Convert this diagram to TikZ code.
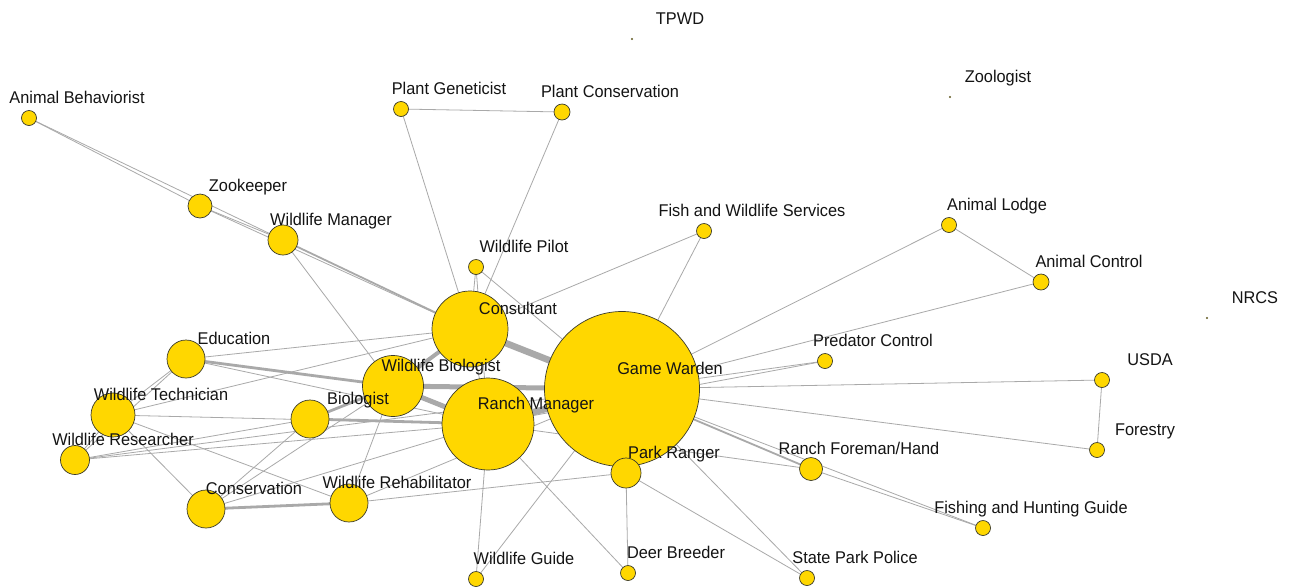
\documentclass[tikz,border=0pt]{standalone}
\usepackage{fontspec}
\setmainfont[FakeStretch=0.96]{Liberation Sans}
\usetikzlibrary{backgrounds}
\definecolor{vfill}{HTML}{FFD700}
\definecolor{vline}{HTML}{3A3A2A}
\definecolor{ecol}{HTML}{A9A9A9}
\newcommand\vtx[4]{\node[vert, minimum size=#4pt] (#1) at (#2,#3) {};}
\newcommand\lab[2]{\node[lbl] (#1-l) at ([xshift=48pt,yshift=15pt]#1.center) {#2};}
\begin{document}
\begin{tikzpicture}[x=1pt,y=-1pt,
  vert/.style={circle, draw=vline, line width=0.7pt, fill=vfill, inner sep=0pt, outer sep=0pt},
  dot/.style={circle, fill=vline!80!vfill, inner sep=0pt, minimum size=2.4pt},
  lbl/.style={anchor=base, text=black!92, font=\fontsize{17}{20}\selectfont, inner sep=0pt},
  e/.style={draw=ecol, line width=0.8pt},
  e2/.style={draw=ecol, line width=1.8pt},
  e3/.style={draw=ecol, line width=2.8pt},
  e4/.style={draw=ecol, line width=4pt},
  e5/.style={draw=ecol, line width=5pt},
  e6/.style={draw=ecol, line width=6.6pt}]
\useasboundingbox (0,0) rectangle (1289,587);

% isolated vertices
\node[dot] (tpwd) at (632,39) {};
\node[dot] (zool) at (950,97) {};
\node[dot] (nrcs) at (1207,318) {};

% vertices: name, x, y, diameter
\vtx{anbeh}{29}{118}{15}
\vtx{plgen}{401}{109}{15}
\vtx{plcon}{562}{112}{16}
\vtx{zoo}{200}{206}{24}
\vtx{wman}{283}{240}{30}
\vtx{fws}{704}{231}{15}
\vtx{lodge}{949}{225}{15}
\vtx{actrl}{1041}{282}{16}
\vtx{pilot}{476}{267}{15}
\vtx{cons}{470}{329}{76}
\vtx{gw}{622}{389}{155}
\vtx{pred}{825}{361}{15}
\vtx{usda}{1102}{380}{15}
\vtx{forest}{1097}{450}{15}
\vtx{edu}{186}{359}{38}
\vtx{wbio}{393}{386}{61}
\vtx{rman}{488}{424}{92}
\vtx{bio}{310}{419}{38}
\vtx{wtech}{113}{415}{44}
\vtx{wres}{75}{460}{29}
\vtx{park}{626}{473}{30}
\vtx{rfore}{811}{469}{23}
\vtx{consv}{206}{509}{38}
\vtx{rehab}{349}{503}{38}
\vtx{fhg}{983}{528}{15}
\vtx{wguide}{476}{579}{15}
\vtx{deer}{628}{573}{15}
\vtx{spp}{807}{578}{15}

\begin{pgfonlayer}{background}
\fill[white] (0,0) rectangle (1289,587);
% strong ties in the core
\draw[e6] (cons.center) -- (gw.center);
\draw[e6] (rman.center) -- (gw.center);
\draw[e5] (wbio.center) -- (gw.center);
\draw[e5] (wbio.center) -- (rman.center);
\draw[e4] (wbio.center) -- (cons.center);
\draw[e3] (edu.center) -- (wbio.center);
\draw[e3] (bio.center) -- (wbio.center);
\draw[e3] (bio.center) -- (rman.center);
\draw[e3] (consv.center) -- (rehab.center);
\draw[e2] (gw.center) -- (rfore.center);
\draw[e2] (wman.center) -- (cons.center);
% upper left chain
\draw[e] (anbeh.center) -- (zoo.center);
\draw[e] (anbeh.center) -- (wman.center);
\draw[e] (zoo.center) -- (wman.center);
\draw[e] (zoo.center) -- (cons.center);
\draw[e] (wman.center) -- (wbio.center);
% plants
\draw[e] (plgen.center) -- (plcon.center);
\draw[e] (plgen.center) -- (cons.center);
\draw[e] (plcon.center) -- (cons.center);
% pilot and federal services
\draw[e] (pilot.center) -- (cons.center);
\draw[e] (pilot.center) -- (gw.center);
\draw[e] (pilot.center) -- (rman.center);
\draw[e] (cons.center) -- (rman.center);
\draw[e] (fws.center) -- (cons.center);
\draw[e] (fws.center) -- (gw.center);
% right fan of the game warden
\draw[e] (lodge.center) -- (gw.center);
\draw[e] (lodge.center) -- (actrl.center);
\draw[e] (actrl.center) -- (gw.center);
\draw[e] (pred.center) -- (gw.center);
\draw[e] (pred.center) -- (rman.center);
\draw[e] (usda.center) -- (gw.center);
\draw[e] (usda.center) -- (forest.center);
\draw[e] (forest.center) -- (gw.center);
\draw[e] (gw.center) -- (fhg.center);
\draw[e] (rfore.center) -- (fhg.center);
\draw[e] (rman.center) -- (rfore.center);
% bottom
\draw[e] (gw.center) -- (spp.center);
\draw[e] (park.center) -- (spp.center);
\draw[e] (park.center) -- (deer.center);
\draw[e] (rman.center) -- (deer.center);
\draw[e] (rman.center) -- (wguide.center);
\draw[e] (gw.center) -- (wguide.center);
\draw[e] (park.center) -- (rehab.center);
\draw[e] (park.center) -- (gw.center);
% left cluster
\draw[e] (edu.center) -- (cons.center);
\draw[e] (edu.center) -- (rman.center);
\draw[e] (edu.center) -- (wtech.center);
\draw[e] (edu.center) -- (wres.center);
\draw[e] (wtech.center) -- (wres.center);
\draw[e] (wtech.center) -- (cons.center);
\draw[e] (wtech.center) -- (rman.center);
\draw[e] (wtech.center) -- (rehab.center);
\draw[e] (wtech.center) -- (consv.center);
\draw[e] (wres.center) -- (bio.center);
\draw[e] (wres.center) -- (rman.center);
\draw[e] (wres.center) -- (gw.center);
\draw[e] (consv.center) -- (bio.center);
\draw[e] (consv.center) -- (wbio.center);
\draw[e] (consv.center) -- (rman.center);
\draw[e] (rehab.center) -- (wbio.center);
\draw[e] (rehab.center) -- (gw.center);
\end{pgfonlayer}

% labels
\lab{tpwd}{TPWD}
\lab{zool}{Zoologist}
\lab{nrcs}{NRCS}
\lab{anbeh}{Animal Behaviorist}
\lab{plgen}{Plant Geneticist}
\lab{plcon}{Plant Conservation}
\lab{zoo}{Zookeeper}
\lab{wman}{Wildlife Manager}
\lab{fws}{Fish and Wildlife Services}
\lab{lodge}{Animal Lodge}
\lab{actrl}{Animal Control}
\lab{pilot}{Wildlife Pilot}
\lab{cons}{Consultant}
\lab{gw}{Game Warden}
\lab{pred}{Predator Control}
\lab{usda}{USDA}
\lab{forest}{Forestry}
\lab{edu}{Education}
\lab{wbio}{Wildlife Biologist}
\lab{rman}{Ranch Manager}
\lab{bio}{Biologist}
\lab{wtech}{Wildlife Technician}
\lab{wres}{Wildlife Researcher}
\lab{park}{Park Ranger}
\lab{rfore}{Ranch Foreman/Hand}
\lab{consv}{Conservation}
\lab{rehab}{Wildlife Rehabilitator}
\lab{fhg}{Fishing and Hunting Guide}
\lab{wguide}{Wildlife Guide}
\lab{deer}{Deer Breeder}
\lab{spp}{State Park Police}
\end{tikzpicture}
\end{document}
